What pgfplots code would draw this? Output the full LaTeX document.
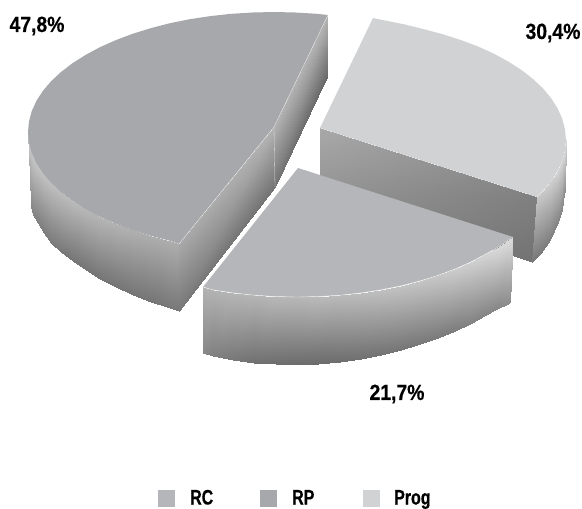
\documentclass[border=0pt]{standalone}
\usepackage{fontspec}
\usepackage{pgfplots}
\pgfplotsset{compat=1.18}
\usepgfplotslibrary{patchplots}
\newfontfamily\numfont{Liberation Sans}[FakeStretch=0.88, BoldFeatures={FakeBold=0.5}]
\newfontfamily\legfont{Liberation Sans}[FakeStretch=0.76, BoldFeatures={FakeBold=0.5}]
\definecolor{rcgray}{HTML}{B5B6B9}
\definecolor{rpgray}{HTML}{A7A8AB}
\definecolor{proggray}{HTML}{D1D2D4}
\tikzset{
  lab/.style={overlay, anchor=center, inner sep=0pt, font=\numfont\bfseries\fontsize{22}{22}\selectfont},
  leg/.style={overlay, anchor=base west, inner sep=0pt, font=\legfont\bfseries\fontsize{21}{21}\selectfont},
}
\begin{document}
\begin{tikzpicture}
\begin{axis}[
  scale only axis, width=582pt, height=509pt,
  xmin=0, xmax=582, ymin=0, ymax=509, y dir=reverse,
  hide axis, clip=false, no markers,
  colormap={greys}{gray(0cm)=(0); gray(1cm)=(1)},
  point meta min=0, point meta max=1,
  wall/.style={surf, shader=interp, mesh/rows=2, point meta=explicit},
]
% page frame, hide axis leaves it out of the bounding box
\path (axis cs:0,0) rectangle (axis cs:582,509);
% RP: outer wall
\addplot[wall] table[meta=c] {
x y c
28 132 .78
29 142.5 .78
31.7 152.8 .78
36.4 163.1 .77
42.8 173 .76
51 182.7 .75
61 192 .74
72.5 200.8 .73
85.6 209.1 .72
100.1 216.9 .71
115.9 223.9 .70
132.9 230.3 .69
151 235.9 .68
170 240.8 .68
179 244 .68
31 200 .55
31.5 206.5 .53
33 214.5 .51
38 223 .50
44 233 .49
51.5 242.7 .48
61.5 252 .47
73 261 .46
86 270 .46
100.5 278.5 .46
116 287 .46
133 294.5 .46
151 302 .46
170 307.5 .47
179 311 .47
};
% RP: cut walls
\addplot[wall] table[meta=c] {
x y c
179 244 .66
274 127 .70
328 15 .70
179 311 .47
275 187 .45
327 77 .41
};
% RP: top
\addplot[draw=none, fill=rpgray] coordinates {
(328,15) (316.7,13.8) (295.4,12.5) (274,12) (252.6,12.5) (231.3,13.8)
(210.3,16.1) (189.9,19.2) (170,23.2) (151,28.1) (132.9,33.7) (115.9,40.1)
(100.1,47.1) (85.6,54.9) (72.5,63.2) (61,72) (51,81.3) (42.8,91)
(36.4,100.9) (31.7,111.2) (29,121.5) (28,132) (29,142.5) (31.7,152.8)
(36.4,163.1) (42.8,173) (51,182.7) (61,192) (72.5,200.8) (85.6,209.1)
(100.1,216.9) (115.9,223.9) (132.9,230.3) (151,235.9) (170,240.8) (179,244)
(274,127)
} -- cycle;
\addplot[draw=white!75!gray, line width=.35pt] coordinates {(179,244) (274,127) (328,15)};
\addplot[draw=white!75!gray, line width=.3pt] coordinates {(274,127) (275,187)};
% Prog: cut wall
\addplot[wall] table[meta=c] {
x y c
320 128 .66
537 197 .50
320 193 .58
532 262 .45
};
% Prog: outer wall
\addplot[wall] table[meta=c] {
x y c
566 140 .84
565 150.5 .84
562.3 160.8 .83
557.6 171.1 .82
551.2 181 .81
543 190.7 .79
537 197 .78
564.5 190 .55
563 200 .54
561.5 210 .53
558 222 .52
550 240 .50
541 253 .48
532 262 .47
};
% Prog: top
\addplot[draw=none, fill=proggray] coordinates {
(373,18) (383.7,20.2) (404.1,24.3) (424,29.2) (443,34.3) (461.1,40.1)
(478.1,46.5) (493.9,53.7) (508.4,61.6) (521.5,70) (533,79) (543,88.4)
(551.2,98.3) (557.6,108.4) (562.3,118.8) (565,129.4) (566,140) (565,150.5)
(562.3,160.8) (557.6,171.1) (551.2,181) (543,190.7) (537,197) (320,128)
} -- cycle;
% RC: outer wall
\addplot[wall] table[meta=c] {
x y c
203 287 .70
212.9 289.8 .70
233.3 292.9 .71
254.3 295.2 .71
275.6 296.5 .72
297 297 .72
318.4 296.5 .73
339.7 295.2 .73
360.7 292.9 .74
381.1 289.8 .75
401 285.8 .76
420 280.9 .77
438.1 275.3 .78
455.1 268.9 .80
470.9 261.9 .81
485.4 254.1 .83
498.5 247 .85
510 239 .86
513 237 .86
203 353 .53
213 356 .50
233 360 .47
254 363 .44
276 364 .43
297 364.5 .42
318 363.5 .42
340 361.5 .43
361 358.5 .44
381 354.5 .45
401 349.5 .46
420 344 .47
438 337.5 .48
455 330.5 .49
470 323.5 .51
484 316 .52
497 309 .53
508 303.5 .55
510 302 .55
};
% RC: top
\addplot[draw=none, fill=rcgray] coordinates {
(203,287) (212.9,289.8) (233.3,292.9) (254.3,295.2) (275.6,296.5) (297,297)
(318.4,296.5) (339.7,295.2) (360.7,292.9) (381.1,289.8) (401,285.8) (420,280.9)
(438.1,275.3) (455.1,268.9) (470.9,261.9) (485.4,254.1) (498.5,247) (510,239)
(513,237) (298,168)
} -- cycle;
\addplot[draw=white!85!gray, line width=.35pt] coordinates {
(203,287) (212.9,289.8) (233.3,292.9) (254.3,295.2) (275.6,296.5) (297,297)
(318.4,296.5) (339.7,295.2) (360.7,292.9) (381.1,289.8) (401,285.8) (420,280.9)
(438.1,275.3) (455.1,268.9) (470.9,261.9) (485.4,254.1) (498.5,247) (510,239)
(513,237)
};
% legend swatches
\addplot[draw=none, fill=rcgray] coordinates {(158,490) (175,490) (175,507) (158,507)} -- cycle;
\addplot[draw=none, fill=rpgray] coordinates {(260,490) (277,490) (277,507) (260,507)} -- cycle;
\addplot[draw=none, fill=proggray] coordinates {(363,490) (380,490) (380,507) (363,507)} -- cycle;
% labels
\node[lab] at (axis cs:37,26) {47,8\%};
\node[lab] at (axis cs:553,33) {30,4\%};
\node[lab] at (axis cs:397,394) {21,7\%};
\node[leg] at (axis cs:190,504.5) {RC};
\node[leg] at (axis cs:292,504.5) {RP};
\node[leg] at (axis cs:394,504.5) {Prog};
\end{axis}
\end{tikzpicture}
\end{document}
